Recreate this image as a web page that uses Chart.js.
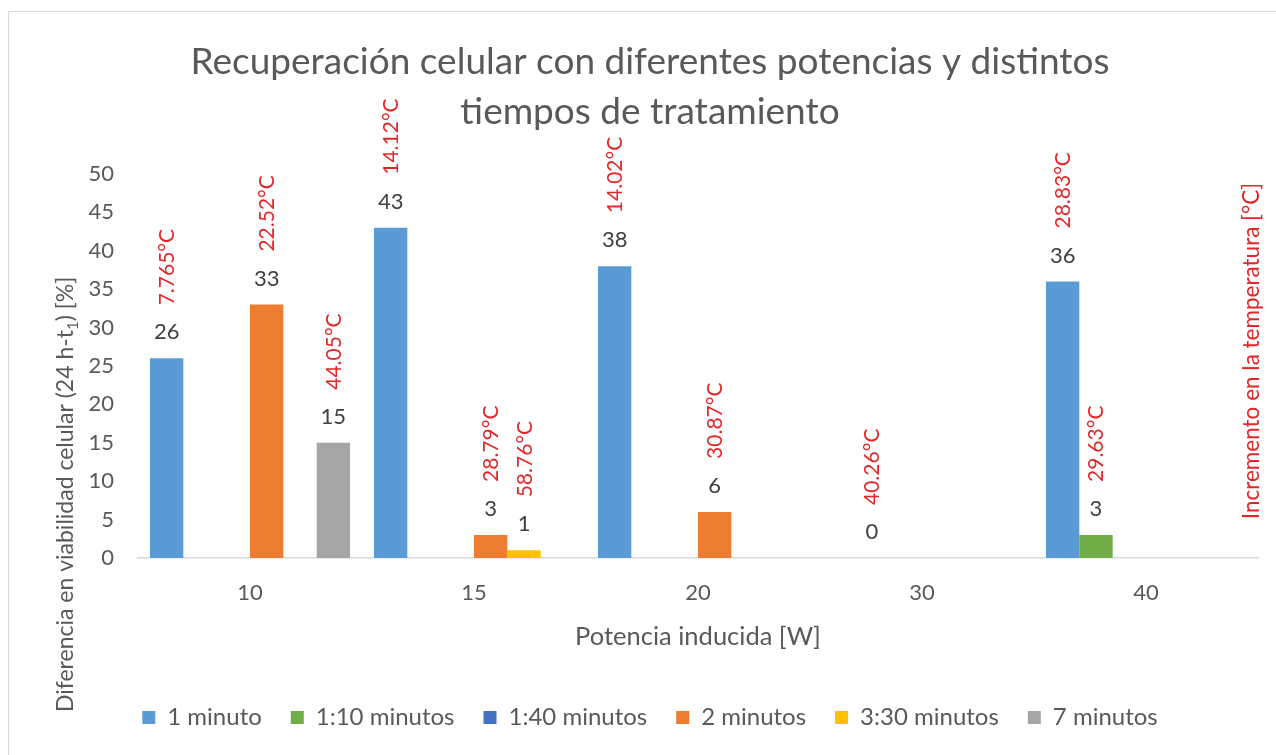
<!DOCTYPE html>
<html lang="es">
<head>
<meta charset="utf-8">
<title>Recuperación celular</title>
<script src="https://cdn.jsdelivr.net/npm/chart.js@4/dist/chart.umd.min.js"></script>
<style>
  html, body { margin: 0; padding: 0; background: #ffffff; overflow: hidden; }
  #marco { position: absolute; left: 8px; top: 11px; width: 1282px; height: 744px; border: 1px solid #d9d9d9; }
  canvas { display: block; }
</style>
</head>
<body>
<div id="marco"><canvas id="grafico" width="1282" height="744"></canvas></div>
<script>
// Categorías del eje X: potencia inducida [W]
const potencias = ['10', '15', '20', '30', '40'];

// Nombres de las series (tiempo de tratamiento)
const series = ['1 minuto', '1:10 minutos', '1:40 minutos', '2 minutos', '3:30 minutos', '7 minutos'];

// Diferencia en viabilidad celular [%] por serie
const viab1min  = [26, 43, 38, null, 36];
const viab1m10  = [null, null, null, 0, 3];
const viab1m40  = [null, null, null, null, null];
const viab2min  = [33, 3, 6, null, null];
const viab3m30  = [null, 1, null, null, null];
const viab7min  = [15, null, null, null, null];

// Incremento de temperatura [°C] asociado a cada barra
const temp1min  = [7.765, 14.12, 14.02, null, 28.83];
const temp1m10  = [null, null, null, 40.26, 29.63];
const temp1m40  = [null, null, null, null, null];
const temp2min  = [22.52, 28.79, 30.87, null, null];
const temp3m30  = [null, 58.76, null, null, null];
const temp7min  = [44.05, null, null, null, null];

// Escala del eje Y
const yMin = 0;
const yMax = 50;
const yPaso = 5;

const colores = ['#5B9BD5', '#70AD47', '#4472C4', '#ED7D31', '#FFC000', '#A5A5A5'];
const valores = [viab1min, viab1m10, viab1m40, viab2min, viab3m30, viab7min];
const temperaturas = [temp1min, temp1m10, temp1m40, temp2min, temp3m30, temp7min];

const GRIS = '#595959';
const ROJO = '#E0282A';

Chart.defaults.font.family = 'Lato, "Open Sans", sans-serif';

// Etiquetas de valor y de temperatura sobre cada barra
const etiquetasBarras = {
  id: 'etiquetasBarras',
  afterDatasetsDraw(chart) {
    const ctx = chart.ctx;
    chart.data.datasets.forEach((ds, d) => {
      const meta = chart.getDatasetMeta(d);
      meta.data.forEach((barra, i) => {
        const v = ds.data[i];
        if (v !== null && v !== undefined) {
          ctx.save();
          ctx.font = '22px Lato';
          ctx.fillStyle = '#404040';
          ctx.textAlign = 'center';
          ctx.textBaseline = 'alphabetic';
          ctx.fillText(String(v), barra.x, barra.y - 19);
          ctx.restore();
        }
        const t = ds.temperaturas[i];
        if (t !== null && t !== undefined) {
          ctx.save();
          ctx.translate(barra.x + 7.5, barra.y - 53);
          ctx.rotate(-Math.PI / 2);
          ctx.font = '21px Lato';
          ctx.fillStyle = ROJO;
          ctx.textAlign = 'left';
          ctx.textBaseline = 'alphabetic';
          ctx.fillText(t + '°C', 0, 0);
          ctx.restore();
        }
      });
    });
  }
};

// Títulos verticales: eje principal (con subíndice) y eje de temperatura
const titulosVerticales = {
  id: 'titulosVerticales',
  afterDraw(chart) {
    const ctx = chart.ctx;
    // Eje Y principal
    ctx.save();
    ctx.translate(63.5, 700);
    ctx.rotate(-Math.PI / 2);
    ctx.fillStyle = GRIS;
    ctx.textAlign = 'left';
    ctx.textBaseline = 'alphabetic';
    ctx.font = '23px Lato';
    const parte1 = 'Diferencia en viabilidad celular (24 h-t';
    ctx.fillText(parte1, 0, 0);
    let x = ctx.measureText(parte1).width;
    ctx.font = '15px Lato';
    ctx.fillText('1', x, 5);
    x += ctx.measureText('1').width;
    ctx.font = '23px Lato';
    ctx.fillText(') [%]', x, 0);
    ctx.restore();

    // Eje secundario: incremento de temperatura
    ctx.save();
    ctx.translate(1250, 339);
    ctx.rotate(-Math.PI / 2);
    ctx.fillStyle = ROJO;
    ctx.textAlign = 'center';
    ctx.textBaseline = 'alphabetic';
    ctx.font = '22.5px Lato';
    ctx.fillText('Incremento en la temperatura [°C]', 0, 0);
    ctx.restore();
  }
};

new Chart(document.getElementById('grafico'), {
  type: 'bar',
  data: {
    labels: potencias,
    datasets: series.map((nombre, k) => ({
      label: nombre,
      data: valores[k],
      temperaturas: temperaturas[k],
      backgroundColor: colores[k],
      borderWidth: 0,
      categoryPercentage: 0.893,
      barPercentage: 1.0
    }))
  },
  options: {
    responsive: false,
    animation: false,
    devicePixelRatio: 1,
    layout: { padding: { left: 0, right: 0, top: 0, bottom: 16.5 } },
    plugins: {
      tooltip: { enabled: false },
      title: {
        display: true,
        text: ['Recuperación celular con diferentes potencias y distintos', 'tiempos de tratamiento'],
        color: GRIS,
        font: { size: 37, weight: 'normal', lineHeight: 50 / 37 },
        padding: { top: 25, bottom: 37 }
      },
      legend: {
        position: 'bottom',
        labels: {
          color: GRIS,
          font: { size: 24 },
          boxWidth: 13,
          boxHeight: 13,
          padding: 29
        }
      }
    },
    scales: {
      x: {
        grid: { display: false, drawTicks: false },
        border: { display: true, color: '#d9d9d9', width: 1.5 },
        ticks: { color: GRIS, font: { size: 22 }, padding: 22 },
        title: {
          display: true,
          text: 'Potencia inducida [W]',
          color: GRIS,
          font: { size: 25.5 },
          padding: { top: 0, bottom: 24.2 }
        },
        afterFit(s) { s.height = 118.5; }
      },
      y: {
        min: yMin,
        max: yMax,
        ticks: { stepSize: yPaso, color: GRIS, font: { size: 22 }, padding: 24 },
        grid: { display: false, drawTicks: false },
        border: { display: false },
        afterFit(s) { s.width = 129; }
      },
      y2: {
        position: 'right',
        grid: { display: false, drawTicks: false },
        border: { display: false },
        ticks: { display: false },
        afterFit(s) { s.width = 33; }
      }
    }
  },
  plugins: [etiquetasBarras, titulosVerticales]
});
</script>
</body>
</html>
